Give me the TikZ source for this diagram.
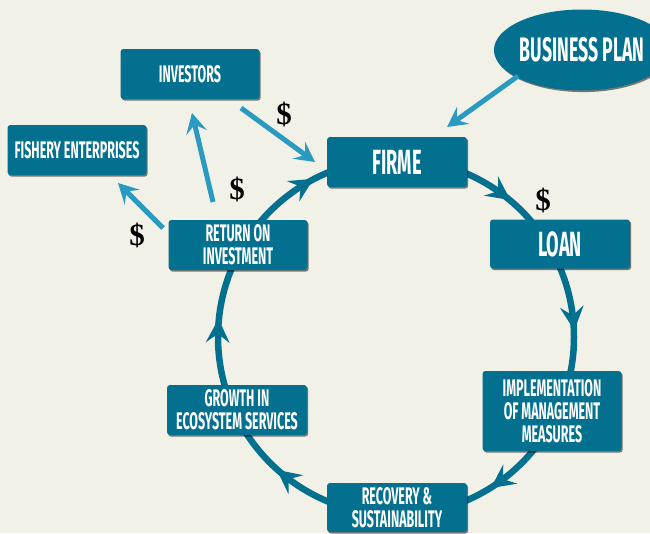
\documentclass[tikz,border=0pt]{standalone}
\usepackage{fontspec}
\setmainfont{Fira Sans}[FakeStretch=0.52]
\newfontfamily\dollarfont{Liberation Serif}
\usetikzlibrary{arrows.meta,shadows,shapes.geometric,calc}
\definecolor{bgc}{HTML}{F2F1E8}
\definecolor{boxteal}{HTML}{02708E}
\definecolor{lightb}{HTML}{2A9AC1}
\begin{document}
\begin{tikzpicture}[x=1pt,y=1pt,
  box/.style={fill=boxteal, rounded corners=3pt, text=white, align=center, inner sep=0pt,
    font=\bfseries\fontsize{24}{23}\selectfont, minimum width=139pt, minimum height=50pt,
    drop shadow={shadow xshift=1.2pt, shadow yshift=-1.6pt, opacity=0.5, fill=black}},
  bigbox/.style={box, font=\bfseries\fontsize{35}{36}\selectfont},
  feed/.style={draw=lightb, line width=5pt, -{Stealth[length=20pt,width=21pt,inset=8pt]}},
  cyc/.style={draw=boxteal, line width=6.5pt},
  chev/.style={fill=boxteal},
  money/.style={font=\dollarfont\bfseries\fontsize{31}{31}\selectfont, text=black, inner sep=0pt}
]
\path[fill=bgc] (0,0) rectangle (650,-533);
\useasboundingbox (0,0) rectangle (650,-533);
\clip (0,0) rectangle (650,-533);

% cycle
\coordinate (c) at (396,-337);
\draw[cyc] (c) circle[radius=178];
\foreach \a in {121.4,54,6,-54,-128,178} {
  \fill[chev, shift={($(c)+(\a:178)$)}, rotate=\a-90]
    (12,0) -- (-12,12) -- (-3,0) -- (-12,-12) -- cycle;
}

% nodes
\node[box] (inv) at (190,-74) {INVESTORS};
\node[box] (fish) at (77,-150) {FISHERY ENTERPRISES};
\node[bigbox, minimum width=140pt] (firme) at (397,-162) {FIRME};
\node[bigbox, minimum width=140pt, minimum height=49pt] (loan) at (560,-244) {LOAN};
\node[box] (roi) at (238,-245) {RETURN ON\\INVESTMENT};
\node[box, minimum width=140pt] (growth) at (237,-410) {GROWTH IN\\ECOSYSTEM SERVICES};
\node[box, minimum height=80pt] (impl) at (552,-411) {IMPLEMENTATION\\OF MANAGEMENT\\MEASURES};
\node[box, minimum width=140pt, minimum height=49pt] (rec) at (397,-507.5) {RECOVERY \&\\SUSTAINABILITY};
\node[ellipse, fill=boxteal, text=white, minimum width=142pt, minimum height=81pt, inner sep=0pt,
  font=\bfseries\fontsize{34}{34}\selectfont,
  drop shadow={shadow xshift=1.2pt, shadow yshift=-1.6pt, opacity=0.5, fill=black}] (bp) at (582,-50) {BUSINESS PLAN};

% feed arrows
\coordinate (bpA) at (518,-76);
\coordinate (bpB) at (447,-127);
\coordinate (invA) at (241,-108);
\coordinate (invB) at (315,-162);
\coordinate (roiA) at (213,-202);
\coordinate (roiB) at (192,-113);
\coordinate (roiC) at (163,-228);
\coordinate (fishB) at (118,-183);
\draw[feed] (bpA) -- (bpB);
\draw[feed] (invA) -- (invB);
\draw[feed] (roiA) -- (roiB);
\draw[feed] (roiC) -- (fishB);

% money labels
\node[money] (m1) at (284,-114) {\$};
\node[money] (m2) at (237,-189) {\$};
\node[money] (m3) at (137,-235) {\$};
\node[money] (m4) at (543,-200) {\$};
\end{tikzpicture}
\end{document}
